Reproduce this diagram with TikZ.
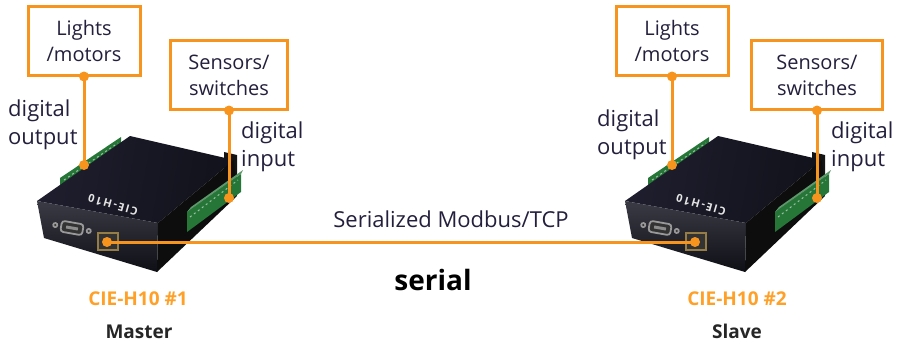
\documentclass[tikz,border=0pt]{standalone}
\usepackage{fontspec}
\setmainfont{Open Sans}
\usetikzlibrary{positioning}
\definecolor{boxorange}{RGB}{247,148,30}
\definecolor{labelorange}{RGB}{255,160,40}
\definecolor{inktext}{RGB}{35,31,60}
\definecolor{termgreen}{RGB}{38,118,56}
\definecolor{topdark}{RGB}{30,30,46}
\definecolor{toplight}{RGB}{112,108,120}
\definecolor{frontdark}{RGB}{24,24,36}
\definecolor{jackrim}{RGB}{150,125,70}
\tikzset{
  iobox/.style={draw=boxorange,line width=3pt,fill=white,align=center,
    font=\fontsize{20}{26}\selectfont,text=inktext,inner sep=0pt},
  iolabel/.style={align=left,anchor=west,font=\fontsize{22}{28}\selectfont,text=inktext,inner sep=0pt},
  wire/.style={draw=boxorange,line width=3pt},
  devname/.style={anchor=base,font=\bfseries\fontsize{19}{19}\selectfont,text=labelorange},
  devrole/.style={anchor=base,font=\bfseries\fontsize{19}{19}\selectfont,text=black!85},
}

\begin{document}
\begin{tikzpicture}[x=1pt,y=-1pt]
  \useasboundingbox (0,0) rectangle (901,345);

  % the two CIE-H10 units
  \foreach \dx/\n in {0/1,588/2}{
    \begin{scope}[shift={(\dx,0)}]
      \fill[termgreen] (60,189) -- (60,178) -- (121,137) -- (121,148) -- cycle;
      \draw[termgreen!45!white,line width=1pt,dash pattern=on 2pt off 3pt] (64,180) -- (118,143);
      \fill[black!92] (224,152) -- (237,155) -- (237,180) -- (224,178) -- cycle;
      \shade[left color=topdark,middle color=toplight,right color=topdark!60!black,shading angle=80]
        (37,201) -- (130,136) -- (234,160) -- (158,223) -- cycle;
      \shade[top color=frontdark!85!white,bottom color=frontdark!60!black]
        (37,201) -- (158,223) -- (157,272) -- (44,238) -- cycle;
      \fill[black!95] (158,223) -- (234,160) -- (237,196) -- (157,272) -- cycle;
      \fill[termgreen] (187,232) -- (187,212) -- (241,174) -- (241,192) -- cycle;
      \fill[termgreen!75!white] (187,212) -- (191,207) -- (243,170) -- (241,174) -- cycle;
      \draw[termgreen!45!white,line width=1pt,dash pattern=on 2pt off 3pt] (190,217) -- (238,180);
      \node[rotate=164,text=black!10,inner sep=0pt,
        font=\bfseries\fontsize{11}{11}\selectfont\addfontfeature{LetterSpace=15}] (tag\n) at (113,205) {CIE-H10};
      \begin{scope}[shift={(72,228)},rotate=-10]
        \fill[black!40] (-17,0) circle[radius=3pt] (17,0) circle[radius=3pt];
        \fill[black!80] (-17,0) circle[radius=1.2pt] (17,0) circle[radius=1.2pt];
        \draw[black!40,fill=black!80,rounded corners=3pt,line width=1.8pt] (-11,-5.5) rectangle (11,5.5);
        \fill[black!45] (-6,-1.5) rectangle (6,1.5);
      \end{scope}
      \draw[jackrim,fill=black!80,line width=1.2pt] (98,233) rectangle (118,250);
      \coordinate (out\n) at (84,165);
      \coordinate (in\n) at (229,198);
      \coordinate (port\n) at (107,242);
    \end{scope}
  }

  % field devices
  \node[iobox,minimum width=112pt,minimum height=68pt] (lights1) at (84,41) {Lights\\/motors};
  \node[iobox,minimum width=117pt,minimum height=68pt] (sensors1) at (229,75) {Sensors/\\switches};
  \node[iobox,minimum width=112pt,minimum height=68pt] (lights2) at (672,41) {Lights\\/motors};
  \node[iobox,minimum width=131pt,minimum height=68pt] (sensors2) at (817,75) {Sensors/\\switches};

  \draw[wire] (lights1.south) -- (out1);
  \draw[wire] (sensors1.south) -- (in1);
  \draw[wire] (lights2.south) -- (out2);
  \draw[wire] (sensors2.south) -- (in2);
  \draw[wire] (port1) -- (port2);
  \fill[boxorange] (lights1.south) circle[radius=5pt] (out1) circle[radius=5pt]
    (sensors1.south) circle[radius=5pt] (in1) circle[radius=5pt]
    (lights2.south) circle[radius=5pt] (out2) circle[radius=5pt]
    (sensors2.south) circle[radius=5pt] (in2) circle[radius=5pt]
    (port1) circle[radius=5pt] (port2) circle[radius=5pt];

  \node[iolabel] (dout1) at (8,125) {digital\\output};
  \node[iolabel] (din1) at (241,147) {digital\\input};
  \node[iolabel] (dout2) at (597,135) {digital\\output};
  \node[iolabel] (din2) at (831,147) {digital\\input};

  \node[anchor=base,font=\fontsize{22}{22}\selectfont,text=inktext] (proto) at (451,227) {Serialized Modbus/TCP};
  \node[anchor=base,font=\bfseries\fontsize{28}{28}\selectfont,text=black] (medium) at (433,290) {serial};

  \node[devname] (name1) at (138,305) {CIE-H10 \#1};
  \node[devrole] (role1) at (139,338) {Master};
  \node[devname] (name2) at (737,305) {CIE-H10 \#2};
  \node[devrole] (role2) at (737,338) {Slave};
\end{tikzpicture}
\end{document}
